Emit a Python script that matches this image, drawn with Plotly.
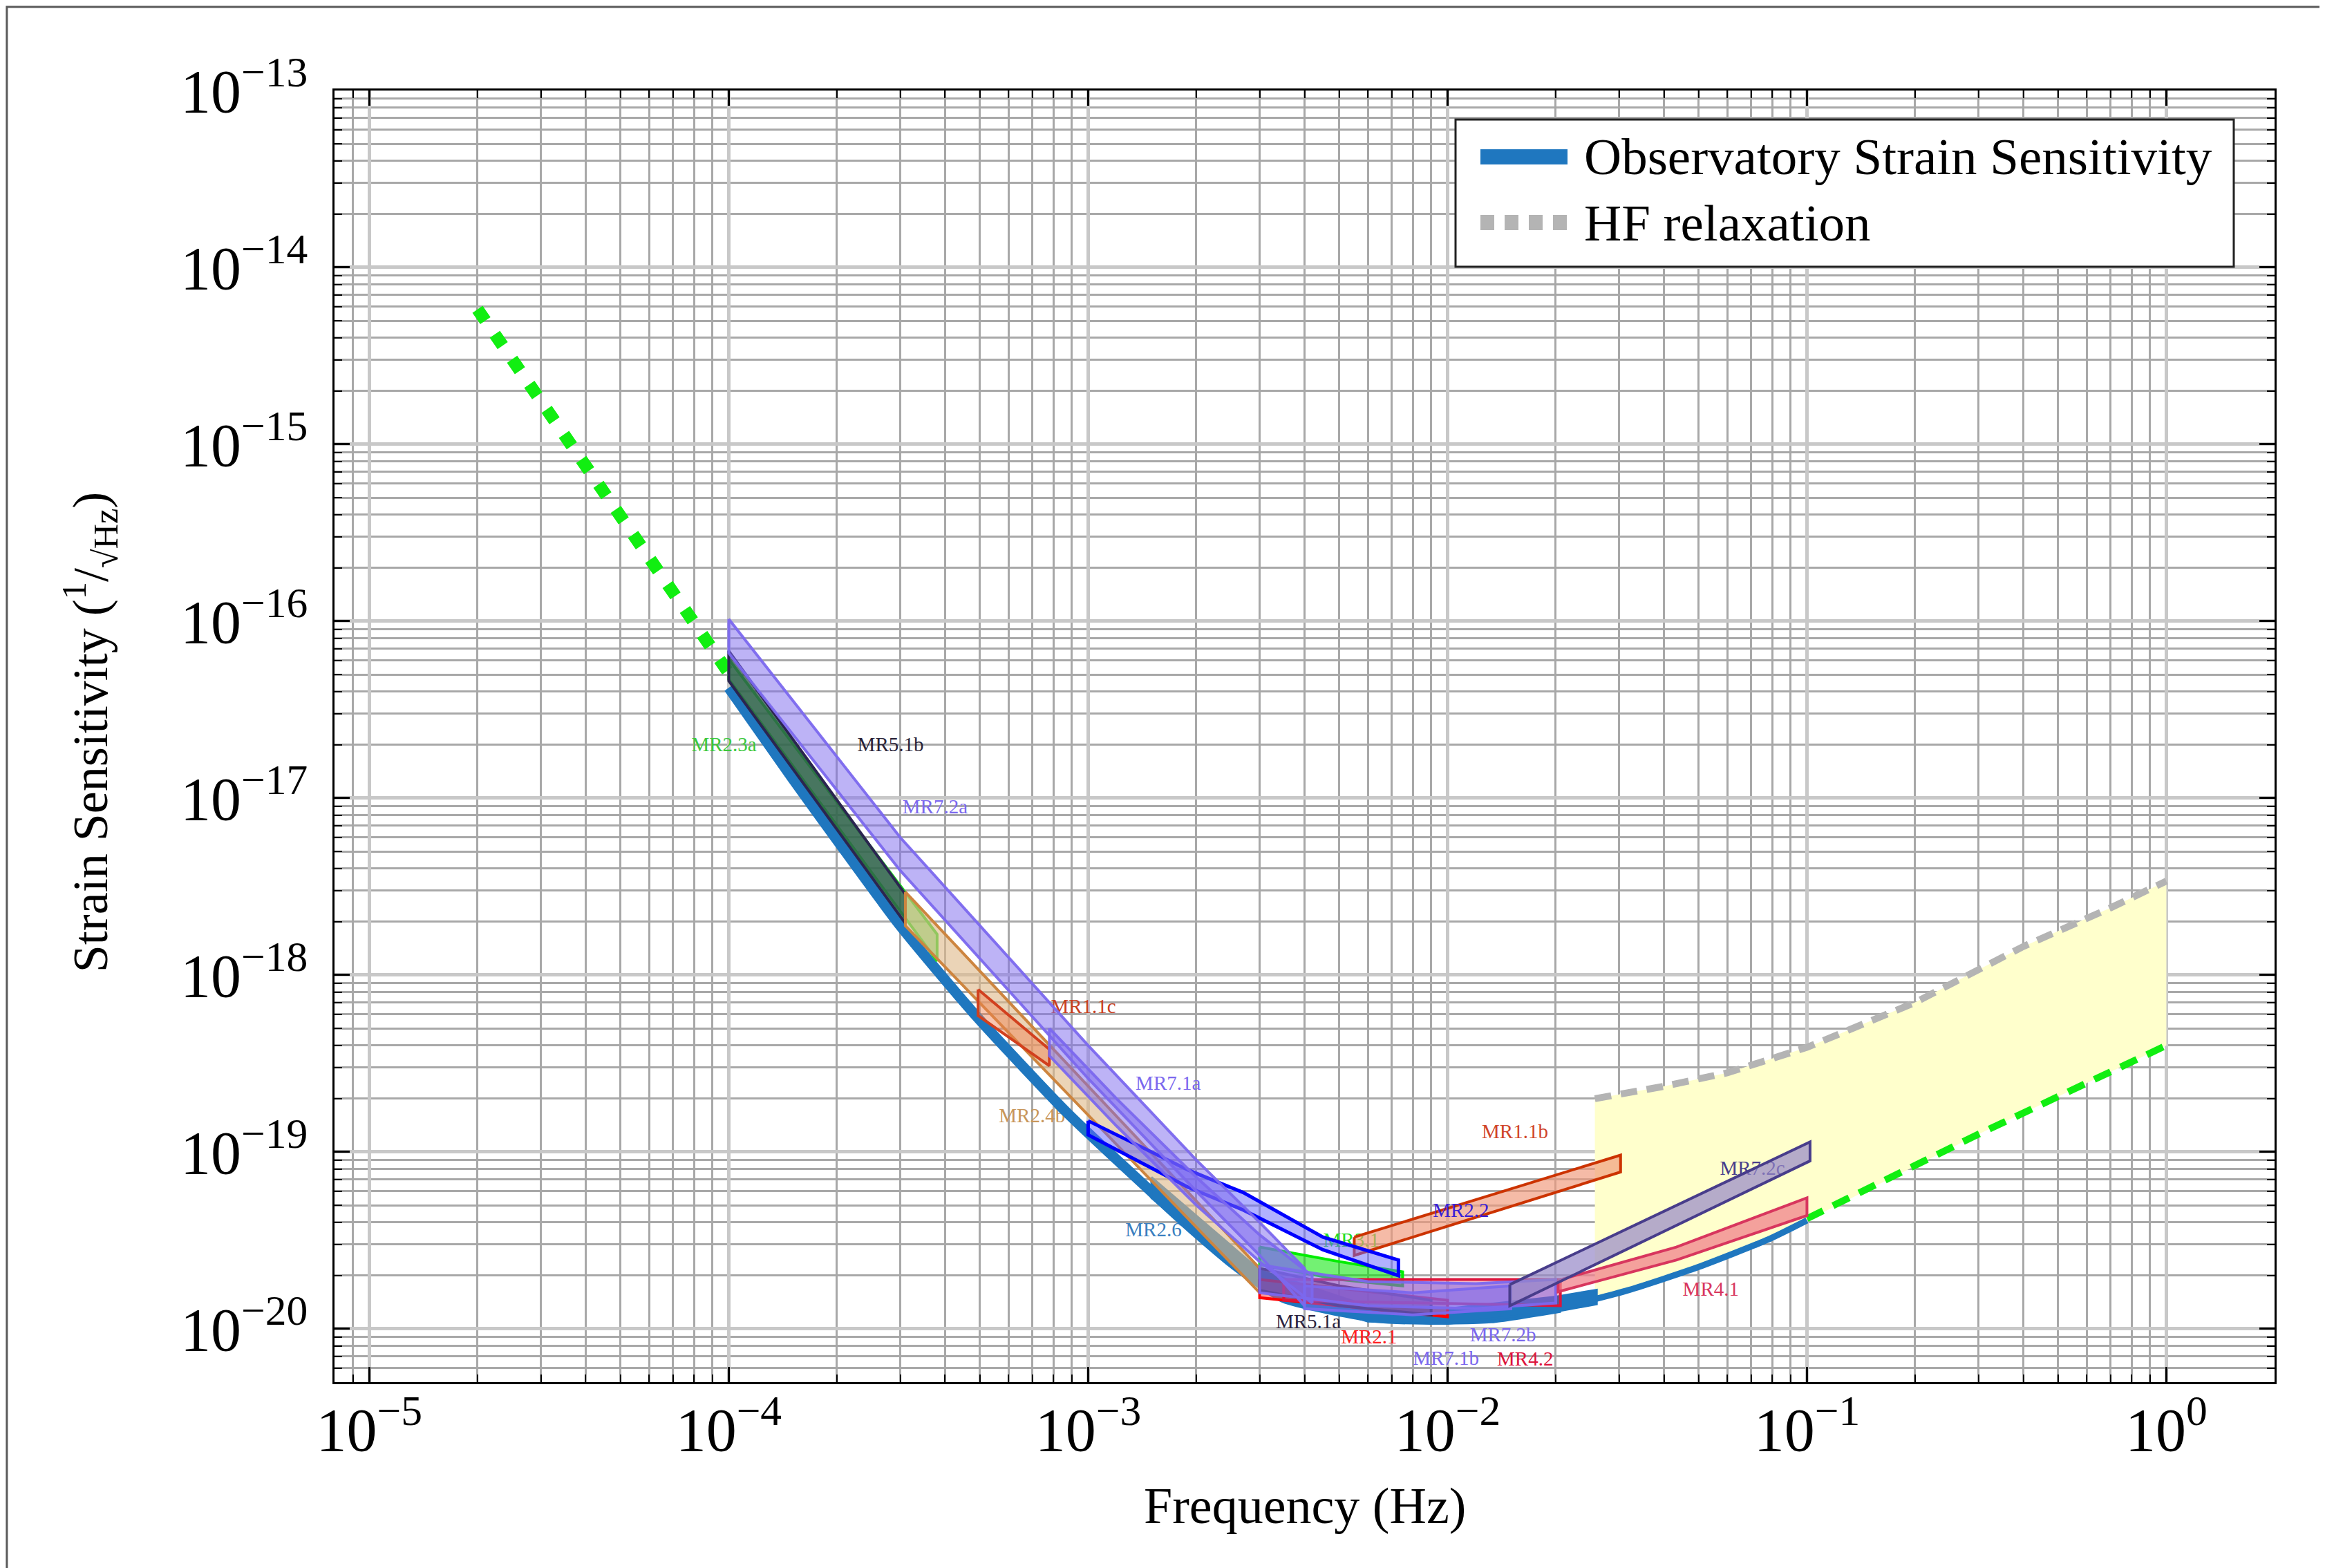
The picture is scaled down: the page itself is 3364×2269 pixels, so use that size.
import math
import plotly.graph_objects as go

# ---------------- data ----------------
# Observatory strain sensitivity (main curve)
f_main = [1e-4, 1.5e-4, 2e-4, 3e-4, 4.8e-4, 8.7e-4, 1.58e-3, 1.94e-3, 2.6e-3, 3.5e-3,
          4.7e-3, 6.3e-3, 8.5e-3, 1.32e-2, 2.06e-2, 3.2e-2, 5.0e-2, 7.8e-2, 1e-1]
h_main = [4.2e-17, 1.3e-17, 5.8e-18, 1.9e-18, 6.1e-19, 1.68e-19, 5.4e-20, 3.7e-20, 2.24e-20, 1.5e-20,
          1.29e-20, 1.16e-20, 1.13e-20, 1.15e-20, 1.32e-20, 1.66e-20, 2.24e-20, 3.2e-20, 4.1e-20]

# HF relaxation (grey dashed)
f_hf = [0.0257, 0.04, 0.06, 0.1, 0.2, 0.4, 0.7, 1.0]
h_hf = [2.0e-19, 2.35e-19, 2.8e-19, 3.9e-19, 7.0e-19, 1.45e-18, 2.4e-18, 3.4e-18]

# yellow region lower boundary (from f=1 back to the left edge)
f_yel_lo = [1.0, 0.3, 0.1, 7.8e-2, 5e-2, 3.2e-2, 2.57e-2]
h_yel_lo = [4.0e-19, 1.26e-19, 4.1e-20, 3.2e-20, 2.24e-20, 1.66e-20, 1.45e-20]

# green extensions
f_lf_ext = [2e-5, 4e-5, 1e-4]
h_lf_ext = [5.8e-15, 7.4e-16, 5.1e-17]
f_hf_ext = [0.1, 0.3, 1.0]
h_hf_ext = [4.2e-20, 1.26e-19, 4.0e-19]

# requirement bands: frequency, lower edge, upper edge
mr26_f = [1.5e-3, 3e-3, 6e-3, 1e-2, 2e-2, 2.6e-2]
mr26_lo = [5.5e-20, 1.7e-20, 1.1e-20, 1.07e-20, 1.25e-20, 1.38e-20]
mr26_hi = [7.2e-20, 2.15e-20, 1.35e-20, 1.3e-20, 1.52e-20, 1.66e-20]

mr23a_f = [1e-4, 3.8e-4]
mr23a_lo = [4.7e-17, 1.2e-18]
mr23a_hi = [6.1e-17, 1.7e-18]

mr51b_f = [1e-4, 3.1e-4]
mr51b_lo = [4.6e-17, 1.96e-18]
mr51b_hi = [6.8e-17, 2.86e-18]

mr24b_f = [3.1e-4, 3e-3]
mr24b_lo = [1.9e-18, 1.6e-20]
mr24b_hi = [2.95e-18, 2.2e-20]

mr11c_f = [4.94e-4, 7.8e-4]
mr11c_lo = [5.9e-19, 3.07e-19]
mr11c_hi = [8.3e-19, 3.8e-19]

mr31_f = [3e-3, 5e-3, 7.5e-3]
mr31_lo = [2.3e-20, 1.9e-20, 1.75e-20]
mr31_hi = [2.9e-20, 2.4e-20, 2.1e-20]

mr21_f = [3e-3, 1e-2]
mr21_lo = [1.5e-20, 1.17e-20]
mr21_hi = [1.9e-20, 1.45e-20]

mr51a_f = [3e-3, 5e-3, 9e-3]
mr51a_lo = [1.65e-20, 1.35e-20, 1.2e-20]
mr51a_hi = [2.2e-20, 1.75e-20, 1.45e-20]

mr42_f = [3.5e-3, 2.06e-2]
mr42_lo = [1.45e-20, 1.35e-20]
mr42_hi = [1.9e-20, 1.9e-20]

mr11b_f = [5.5e-3, 3.03e-2]
mr11b_lo = [2.6e-20, 7.7e-20]
mr11b_hi = [3.3e-20, 9.6e-20]

mr22_f = [1e-3, 1.9e-3, 2.7e-3, 4.5e-3, 7.3e-3]
mr22_lo = [1.25e-19, 6.3e-20, 4.7e-20, 2.8e-20, 2.0e-20]
mr22_hi = [1.5e-19, 7.9e-20, 5.9e-20, 3.3e-20, 2.45e-20]

mr72a_f = [1e-4, 3e-4, 1e-3, 2e-3, 3e-3, 4e-3]
mr72a_lo = [6.6e-17, 3.9e-18, 2.6e-19, 6.0e-20, 2.6e-20, 1.35e-20]
mr72a_hi = [1.03e-16, 6.0e-18, 4.0e-19, 9.0e-20, 4.0e-20, 2.2e-20]

mr71a_f = [7.8e-4, 1.2e-3, 2e-3, 3e-3, 4.2e-3]
mr71a_lo = [3.5e-19, 1.4e-19, 5.0e-20, 2.4e-20, 1.4e-20]
mr71a_hi = [5.0e-19, 2.0e-19, 7.2e-20, 3.4e-20, 2.0e-20]

mr71b_f = [4e-3, 8e-3, 1.5e-2]
mr71b_lo = [1.3e-20, 1.2e-20, 1.3e-20]
mr71b_hi = [1.75e-20, 1.6e-20, 1.75e-20]

mr72b_f = [3e-3, 6e-3, 1.2e-2, 2e-2]
mr72b_lo = [1.6e-20, 1.35e-20, 1.3e-20, 1.4e-20]
mr72b_hi = [2.3e-20, 1.85e-20, 1.8e-20, 1.9e-20]

mr41_f = [0.0203, 0.0433, 0.1]
mr41_lo = [1.62e-20, 2.45e-20, 4.37e-20]
mr41_hi = [1.88e-20, 2.9e-20, 5.5e-20]

mr72c_f = [0.0149, 0.102]
mr72c_lo = [1.35e-20, 8.9e-20]
mr72c_hi = [1.78e-20, 1.14e-19]

# labels
label_text = ["MR2.3a", "MR5.1b", "MR7.2a", "MR1.1c", "MR7.1a", "MR2.4b", "MR2.6",
              "MR3.1", "MR1.1b", "MR5.1a", "MR2.1", "MR7.1b", "MR7.2b", "MR4.2",
              "MR7.2c", "MR4.1"]
label_f = [9.7e-5, 2.82e-4, 3.75e-4, 9.7e-4, 1.67e-3, 6.98e-4, 1.52e-3,
           5.4e-3, 1.54e-2, 4.1e-3, 6.05e-3, 9.9e-3, 1.426e-2, 1.644e-2,
           7.05e-2, 5.4e-2]
label_h = [1.97e-17, 1.97e-17, 8.75e-18, 6.5e-19, 2.4e-19, 1.57e-19, 3.56e-20,
           3.1e-20, 1.28e-19, 1.08e-20, 8.8e-21, 6.7e-21, 9.1e-21, 6.6e-21,
           7.9e-20, 1.64e-20]
label_color = ["#3cc83c", "#2a2438", "#7b68ee", "#c8401e", "#7b68ee", "#c8965a", "#3a7fc0",
               "#22dd22", "#d0452a", "#2c2440", "#ff2020", "#7b68ee", "#7b68ee", "#dc143c",
               "#483d8b", "#d8365e"]
mr22_label = ("MR2.2", 1.09e-2, 4.6e-20, "#3a1fd6")

legend_names = ["Observatory Strain Sensitivity", "HF relaxation"]

x_tick_vals = [1e-5, 1e-4, 1e-3, 1e-2, 1e-1, 1e0]
x_tick_text = ["10<sup>−5</sup>", "10<sup>−4</sup>", "10<sup>−3</sup>", "10<sup>−2</sup>",
               "10<sup>−1</sup>", "10<sup>0</sup>"]
y_tick_vals = [1e-20, 1e-19, 1e-18, 1e-17, 1e-16, 1e-15, 1e-14, 1e-13]
y_tick_text = ["10<sup>−20</sup>", "10<sup>−19</sup>", "10<sup>−18</sup>", "10<sup>−17</sup>",
               "10<sup>−16</sup>", "10<sup>−15</sup>", "10<sup>−14</sup>", "10<sup>−13</sup>"]

# ---------------- figure ----------------
FONT = "Liberation Serif"
BLUE = "#1f77bf"
GREY = "#b4b4b4"
PURPLE_LINE = "rgba(123,104,238,0.95)"
PURPLE_FILL = "rgba(123,104,238,0.5)"

fig = go.Figure()


def band(f, lo, hi, line, fill, width=4):
    x = list(f) + list(f[::-1]) + [f[0]]
    y = list(hi) + list(lo[::-1]) + [hi[0]]
    fig.add_trace(go.Scatter(x=x, y=y, mode="lines", fill="toself", fillcolor=fill,
                             line=dict(color=line, width=width), showlegend=False,
                             hoverinfo="skip"))


def label(t, f, h, c):
    fig.add_trace(go.Scatter(x=[f], y=[h], mode="text", text=[t],
                             textfont=dict(family=FONT, size=29, color=c),
                             textposition="middle center", showlegend=False,
                             hoverinfo="skip"))


# yellow HF region
fig.add_trace(go.Scatter(x=f_hf + f_yel_lo + [f_hf[0]], y=h_hf + h_yel_lo + [h_hf[0]],
                         mode="lines", fill="toself", fillcolor="rgb(255,255,204)",
                         line=dict(width=0, color="rgba(0,0,0,0)"), showlegend=False,
                         hoverinfo="skip"))
# HF relaxation
fig.add_trace(go.Scatter(x=f_hf, y=h_hf, mode="lines", name=legend_names[1], showlegend=False,
                         line=dict(color=GREY, width=10, dash="24px,14px")))
# green extensions
fig.add_trace(go.Scatter(x=f_hf_ext, y=h_hf_ext, mode="lines", showlegend=False,
                         line=dict(color="#11ee11", width=10, dash="26px,16px")))
fig.add_trace(go.Scatter(x=f_lf_ext, y=h_lf_ext, mode="lines", showlegend=False,
                         line=dict(color="#11ee11", width=18, dash="20px,24px")))

for t, f, h, c in zip(label_text, label_f, label_h, label_color):
    label(t, f, h, c)

# main curve (thicker over the band-covered part)
fig.add_trace(go.Scatter(x=f_main, y=h_main, mode="lines", name=legend_names[0], showlegend=False,
                         line=dict(color=BLUE, width=9, shape="spline", smoothing=0.6)))
n_thick = sum(1 for f in f_main if f <= 0.021)
fig.add_trace(go.Scatter(x=f_main[:n_thick], y=h_main[:n_thick], mode="lines", showlegend=False,
                         hoverinfo="skip",
                         line=dict(color=BLUE, width=15, shape="spline", smoothing=0.6)))

band(mr26_f, mr26_lo, mr26_hi, BLUE, BLUE, 3)
band(mr23a_f, mr23a_lo, mr23a_hi, "#22dd22", "rgba(60,220,60,0.55)")
band(mr51b_f, mr51b_lo, mr51b_hi, "#2b2550", "rgba(47,79,79,0.75)")
band(mr24b_f, mr24b_lo, mr24b_hi, "#cd853f", "rgba(222,184,135,0.6)")
band(mr11c_f, mr11c_lo, mr11c_hi, "#d2401e", "rgba(240,128,80,0.45)")
band(mr31_f, mr31_lo, mr31_hi, "#00ee00", "rgba(0,230,0,0.55)")
band(mr21_f, mr21_lo, mr21_hi, "#ff0000", "rgba(255,70,70,0.55)")
band(mr51a_f, mr51a_lo, mr51a_hi, "#3b2b4f", "rgba(80,50,80,0.5)")
band(mr42_f, mr42_lo, mr42_hi, "#dc143c", "rgba(220,20,60,0.3)")
band(mr11b_f, mr11b_lo, mr11b_hi, "#cc3300", "rgba(240,150,120,0.65)")
label(*mr22_label)
band(mr22_f, mr22_lo, mr22_hi, "#0000ff", "rgba(100,100,255,0.5)", 5)
band(mr72a_f, mr72a_lo, mr72a_hi, PURPLE_LINE, PURPLE_FILL)
band(mr71a_f, mr71a_lo, mr71a_hi, PURPLE_LINE, PURPLE_FILL)
band(mr71b_f, mr71b_lo, mr71b_hi, PURPLE_LINE, PURPLE_FILL)
band(mr72b_f, mr72b_lo, mr72b_hi, PURPLE_LINE, PURPLE_FILL)
band(mr41_f, mr41_lo, mr41_hi, "#d8365e", "rgba(240,130,140,0.75)")
band(mr72c_f, mr72c_lo, mr72c_hi, "#483d8b", "rgba(150,135,200,0.7)")

# axes
x_range = [math.log10(8e-6), math.log10(2.0)]
y_range = [math.log10(5e-21), -13.0]
x_minor = [m * 10.0 ** e for e in range(-6, 1) for m in range(2, 10)
           if x_range[0] <= math.log10(m * 10.0 ** e) <= x_range[1]]
y_minor = [m * 10.0 ** e for e in range(-21, -13) for m in range(2, 10)
           if y_range[0] <= math.log10(m * 10.0 ** e) <= y_range[1]]

axis_common = dict(
    type="log", showgrid=True, gridcolor="#c8c8c8", gridwidth=5,
    ticks="inside", ticklen=22, tickwidth=3, tickcolor="black",
    showline=True, linecolor="black", linewidth=3, mirror="allticks",
    zeroline=False, tickfont=dict(family=FONT, size=88, color="black"),
)

fig.update_xaxes(range=x_range, tickmode="array", tickvals=x_tick_vals, ticktext=x_tick_text,
                 ticklabelstandoff=-10,
                 minor=dict(tickmode="array", tickvals=x_minor, showgrid=True,
                            gridcolor="#a8a8a8", gridwidth=2.5, ticks="inside",
                            ticklen=11, tickwidth=2, tickcolor="black"),
                 **axis_common)
fig.update_yaxes(range=y_range, tickmode="array", tickvals=y_tick_vals, ticktext=y_tick_text,
                 ticklabelstandoff=18,
                 minor=dict(tickmode="array", tickvals=y_minor, showgrid=True,
                            gridcolor="#a8a8a8", gridwidth=2.5, ticks="inside",
                            ticklen=11, tickwidth=2, tickcolor="black"),
                 **axis_common)


# pixel -> paper helpers for the hand-drawn legend
L, R, T, B = 476, 81, 123, 277
PW, PH = 3364 - L - R, 2269 - T - B


def px(X):
    return (X - L) / PW


def py(Y):
    return 1 - (Y - T) / PH


shapes = [
    dict(type="rect", xref="paper", yref="paper", x0=-0.1689, x1=1.0278,
         y0=-0.1461, y1=1.0647, line=dict(color="#5a5a5a", width=3),
         fillcolor="rgba(0,0,0,0)", layer="below"),
    dict(type="rect", xref="paper", yref="paper", x0=px(2098), x1=px(3224),
         y0=py(378), y1=py(165), line=dict(color="#222222", width=3),
         fillcolor="white", layer="above"),
    dict(type="line", xref="paper", yref="paper", x0=px(2134), x1=px(2260),
         y0=py(219), y1=py(219), line=dict(color=BLUE, width=22)),
    dict(type="line", xref="paper", yref="paper", x0=px(2134), x1=px(2260),
         y0=py(314), y1=py(314), line=dict(color=GREY, width=22, dash="20px,15px")),
]

annotations = [
    dict(text=legend_names[0], xref="paper", yref="paper", x=px(2282), y=py(219),
         xanchor="left", yanchor="middle", showarrow=False,
         font=dict(family=FONT, size=75, color="black")),
    dict(text=legend_names[1], xref="paper", yref="paper", x=px(2282), y=py(314),
         xanchor="left", yanchor="middle", showarrow=False,
         font=dict(family=FONT, size=75, color="black")),
    dict(text="Frequency (Hz)", xref="paper", yref="paper", x=0.5, y=-0.0958,
         xanchor="center", yanchor="middle", showarrow=False,
         font=dict(family=FONT, size=74, color="black")),
    dict(text="Strain Sensitivity (<sup>1</sup>/<sub>√Hz</sub>)", xref="paper", yref="paper",
         x=-0.126, y=0.5035, xanchor="center", yanchor="middle", textangle=-90,
         showarrow=False, font=dict(family=FONT, size=72, color="black")),
]

fig.update_layout(
    width=3364, height=2269,
    margin=dict(l=L, r=R, t=T, b=B),
    paper_bgcolor="white", plot_bgcolor="white",
    font=dict(family=FONT, color="black"),
    showlegend=False,
    annotations=annotations,
    shapes=shapes,
)

fig.write_html("out.html")
